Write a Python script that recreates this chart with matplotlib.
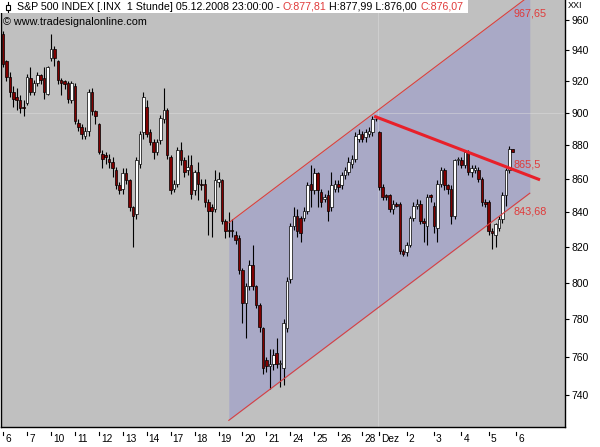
import numpy as np
import matplotlib.pyplot as plt
from matplotlib.patches import Rectangle
from matplotlib.lines import Line2D
from matplotlib.ticker import NullLocator
from matplotlib.transforms import blended_transform_factory

plt.rcParams['font.family'] = ['Liberation Sans', 'DejaVu Sans']

# S&P 500, Stundenkerzen 06.11.2008 - 05.12.2008
opens = [951, 933, 923, 913, 910, 908, 904,
         906, 922, 913, 919, 924, 922, 912,
         935, 941, 933, 921, 920, 919, 908,
         917, 894, 891, 886, 889, 913, 901,
         893, 875, 874, 872, 870, 865, 856,
         854, 863, 859, 843, 839, 869, 888,
         904, 888, 882, 876, 883, 896, 902,
         873, 854, 857, 877, 871, 865, 868,
         853, 864, 857, 857, 846, 843, 842,
         858, 859, 835, 830, 830, 827, 825,
         807, 789, 798, 810, 798, 788, 775,
         758, 755, 756, 762, 756, 754, 775,
         802, 832, 838, 837, 837, 841, 857,
         853, 863, 852, 848, 850, 843, 854,
         857, 856, 862, 864, 869, 872, 884,
         887, 885, 887, 888, 896,
         888, 855, 850, 850, 842, 845, 845, 818,
         817, 821, 837, 844, 845, 835, 832, 850,
         844, 831, 857, 865, 856, 854, 838, 871,
         871, 868, 876, 864, 865, 865, 860, 846,
         846, 829, 827, 831, 836, 850, 865, 877.81]
highs = [953, 934, 926, 917, 916, 911, 908,
         925, 929, 921, 926, 925, 929, 930,
         951, 943, 934, 922, 921, 920, 920,
         919, 896, 893, 891, 915, 916, 902,
         894, 877, 876, 875, 873, 867, 858,
         866, 866, 860, 844, 873, 889, 913,
         908, 890, 884, 884, 899, 916, 903,
         874, 859, 879, 882, 873, 874, 874,
         865, 870, 860, 860, 848, 845, 865,
         864, 860, 836, 840, 836, 829, 827,
         808, 800, 813, 821, 799, 789, 776,
         760, 764, 764, 770, 758, 780, 803,
         834, 843, 842, 838, 843, 858, 868,
         866, 864, 854, 851, 853, 864, 859,
         859, 864, 867, 873, 874, 888, 890,
         889, 890, 891, 898, 897,
         889, 857, 851, 851, 847, 846, 846, 819,
         823, 838, 846, 848, 847, 837, 851, 851,
         846, 859, 867, 866, 857, 856, 872, 873,
         873, 877, 877, 868, 868, 867, 861, 848,
         847, 831, 834, 838, 852, 866, 879.4, 877.99]
lows = [929, 920, 910, 904, 902, 900, 898,
        905, 911, 911, 917, 918, 909, 911,
        933, 930, 918, 911, 915, 906, 906,
        893, 889, 884, 884, 886, 899, 893,
        875, 866, 869, 866, 861, 854, 851,
        851, 857, 841, 820, 836, 866, 884,
        885, 880, 872, 874, 881, 894, 872,
        851, 852, 855, 868, 861, 862, 848,
        850, 847, 853, 843, 827, 826, 840,
        855, 833, 825, 826, 826, 822, 805,
        778, 770, 796, 796, 786, 773, 751,
        752, 743, 753, 754, 744, 745, 773,
        800, 830, 826, 823, 835, 839, 843,
        851, 843, 843, 846, 835, 841, 852,
        852, 854, 860, 862, 866, 870, 882,
        882, 882, 885, 886, 895,
        853, 847, 847, 840, 839, 843, 816, 815,
        815, 820, 835, 842, 833, 823, 821, 846,
        828, 823, 855, 853, 851, 833, 836, 868,
        866, 866, 862, 861, 863, 858, 844, 843,
        827, 819, 820, 829, 834, 844, 863, 876.00]
closes = [931, 923, 913, 909, 908, 903, 903,
          923, 913, 919, 924, 921, 913, 929,
          941, 935, 921, 919, 918, 909, 919,
          895, 891, 887, 889, 913, 901, 898,
          876, 872, 873, 870, 866, 856, 853,
          863, 859, 843, 838, 871, 887, 910,
          887, 882, 876, 882, 897, 902, 874,
          853, 857, 877, 871, 864, 867, 851,
          864, 857, 856, 846, 841, 841, 859,
          860, 835, 829, 829, 829, 824, 807,
          789, 798, 810, 798, 788, 776, 754,
          755, 756, 761, 756, 756.5, 778, 801,
          832, 838, 829, 828, 841, 856, 853,
          863, 853, 846, 849, 841, 856, 857,
          855, 862, 865, 870, 872, 886, 887,
          884, 888, 889, 896, 896.5,
          855, 849, 849, 842, 845, 844, 818, 816,
          821, 837, 844, 845, 835, 834, 849, 849,
          832, 857, 865, 856, 854, 838, 871, 871.5,
          868, 876, 864, 866, 866, 860, 846, 845,
          829, 828, 833, 836, 850, 865, 878, 876.07]

day_labels = ['6', '7', '10', '11', '12', '13', '14', '17', '18', '19', '20',
              '21', '24', '25', '26', '28', 'Dez', '2', '3', '4', '5', '6']
bars_per_day = [7] * 15 + [5] + [8] * 5
y_ticks = [740, 760, 780, 800, 820, 840, 860, 880, 900, 920, 940, 960]

# Trendkanal und Abwaertstrend (Werte am letzten Bar wie im Chart beschriftet)
chan_first_bar, chan_first_val = 66, 834.0
chan_upper_last = 967.65
chan_lower_last = 843.68
down_first_bar, down_first_val = 108.5, 898.0
down_last = 865.5

RED_TXT = '#e03a3a'

fig = plt.figure(figsize=(6, 4.47), dpi=100, facecolor='white')
ax = fig.add_axes([1 / 600, 20 / 447, 564 / 600, 427 / 447])
ax.set_facecolor('#c0c0c0')

o, h, l, c = (np.array(v, dtype=float) for v in (opens, highs, lows, closes))
x = np.arange(len(c))
last = len(c) - 1

# Kanal
k = np.log(chan_upper_last / chan_first_val) / (last - chan_first_bar)
xc = np.linspace(chan_first_bar, 154, 50)
upper = chan_first_val * np.exp(k * (xc - chan_first_bar))
lower = upper * chan_lower_last / chan_upper_last
ax.fill_between(xc, lower, upper, color='#a9a9c6', lw=0, zorder=1)
ax.plot(xc, upper, color='#d84040', lw=0.8, zorder=5)
ax.plot(xc, lower, color='#d84040', lw=0.8, zorder=5)

# Rasterlinien (schwach)
ax.axhline(900, color='#e0e0e0', lw=0.7, alpha=0.45, zorder=1.5)
starts = np.concatenate([[0], np.cumsum(bars_per_day)])
ax.axvline(starts[16] - 0.5, color='#e0e0e0', lw=0.7, alpha=0.45, zorder=1.5)

# Kerzen
ax.vlines(x, l, h, color='black', lw=0.8, zorder=3)
lo = np.minimum(o, c)
hi = np.maximum(o, c)
ax.bar(x, hi - lo, bottom=lo, width=0.74,
       color=np.where(c >= o, 'white', '#800000'),
       edgecolor='black', linewidth=0.5, zorder=4)

# Abwaertstrend
kd = np.log(down_last / down_first_val) / (last - down_first_bar)
xd = np.array([down_first_bar, 157])
ax.plot(xd, down_first_val * np.exp(kd * (xd - down_first_bar)),
        color='#e8202a', lw=2.2, zorder=6, solid_capstyle='butt')

# Wertebeschriftungen
lab = lambda v: f'{v:g}'.replace('.', ',')
ax.text(last + 0.3, chan_upper_last, lab(chan_upper_last), color=RED_TXT,
        fontsize=7.8, ha='left', va='top', zorder=7)
ax.text(last + 0.3, down_last, lab(down_last), color=RED_TXT,
        fontsize=7.8, ha='left', va='bottom', zorder=7)
ax.text(last + 0.3, chan_lower_last, lab(chan_lower_last), color=RED_TXT,
        fontsize=7.8, ha='left', va='top', zorder=7)

# Achsen
ax.set_yscale('log')
ax.set_ylim(723.8, 973.4)
ax.set_xlim(-0.6, 164.3)
ax.yaxis.tick_right()
ax.set_yticks(y_ticks)
ax.set_yticklabels([str(v) for v in y_ticks])
ax.yaxis.set_minor_locator(NullLocator())
ax.tick_params(axis='y', direction='out', length=3, width=0.8, pad=1.5,
               labelsize=7.5)
ax.set_xticks([])
ax.spines['top'].set_visible(False)
for s in ('left', 'bottom', 'right'):
    ax.spines[s].set_linewidth(1.0)

trans = blended_transform_factory(ax.transData, ax.transAxes)
for s, txt in zip(starts, day_labels):
    ax.add_line(Line2D([s, s], [-4.7 / 427, -8 / 427], transform=trans,
                       color='black', lw=0.8, clip_on=False))
    ax.text(s + 0.6, -12.5 / 427, txt, transform=trans, fontsize=7.3,
            ha='left', va='center', clip_on=False)

# Kopfzeile
fig.patches.append(Rectangle((0, 1 - 13 / 447), 468 / 600, 13 / 447,
                             transform=fig.transFigure, facecolor='white',
                             edgecolor='none', zorder=2))
fig.lines.append(Line2D([7.5 / 600] * 2, [1 - 2 / 447, 1 - 12 / 447],
                        transform=fig.transFigure, color='black', lw=0.8, zorder=3))
fig.patches.append(Rectangle((5.5 / 600, 1 - 10 / 447), 4 / 600, 5 / 447,
                             transform=fig.transFigure, facecolor='white',
                             edgecolor='black', lw=0.8, zorder=3))

fmt = lambda v: f'{v:.2f}'.replace('.', ',')
parts = [('S&P 500 INDEX [.INX  1 Stunde] 05.12.2008 23:00:00 - ', 'black'),
         (f'O:{fmt(o[-1])}', RED_TXT),
         (f' H:{fmt(h[-1])} L:{fmt(l[-1])} ', 'black'),
         (f'C:{fmt(c[-1])}', RED_TXT)]
r = fig.canvas.get_renderer()
xp = 17 / 600
for s, col in parts:
    t = fig.text(xp, 1 - 6.5 / 447, s, color=col, fontsize=7.7,
                 ha='left', va='center', zorder=4)
    xp = t.get_window_extent(renderer=r).x1 / fig.bbox.width

fig.text(3 / 600, 1 - 22 / 447, '\u00a9 www.tradesignalonline.com',
         fontsize=7.8, ha='left', va='center')
fig.text(568 / 600, 1 - 6 / 447, 'XXI', fontsize=6.5, ha='left', va='center')

fig.savefig('out.png', dpi=100, facecolor='white')
